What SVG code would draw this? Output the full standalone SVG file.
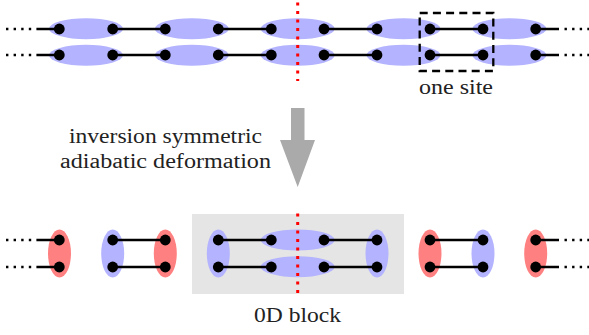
<svg xmlns="http://www.w3.org/2000/svg" width="589" height="335" viewBox="0 0 589 335">
<style>
.b{fill:#b3b3ff}.r{fill:#ff8080}
.w{stroke:#000;stroke-width:2.3;fill:none}
.d{stroke:#000;stroke-width:2.4;stroke-dasharray:2.4 5.2;fill:none}
.rd{stroke:#f00;stroke-width:3;stroke-dasharray:3 5.5;fill:none}
.t{font-family:"Liberation Serif",serif;font-size:20px;fill:#222}
circle{fill:#000}
</style>
<rect id="block" x="192" y="214" width="212" height="80" fill="#e5e5e5"/>
<g id="top-ellipses" class="b">
<ellipse cx="86" cy="28.7" rx="37" ry="10.5"/><ellipse cx="86" cy="55.3" rx="37" ry="10.5"/>
<ellipse cx="191.8" cy="28.7" rx="37" ry="10.5"/><ellipse cx="191.8" cy="55.3" rx="37" ry="10.5"/>
<ellipse cx="297.7" cy="28.7" rx="37" ry="10.5"/><ellipse cx="297.7" cy="55.3" rx="37" ry="10.5"/>
<ellipse cx="403.5" cy="28.7" rx="37" ry="10.5"/><ellipse cx="403.5" cy="55.3" rx="37" ry="10.5"/>
<ellipse cx="509.4" cy="28.7" rx="37" ry="10.5"/><ellipse cx="509.4" cy="55.3" rx="37" ry="10.5"/>
</g>
<g id="bottom-ellipses">
<ellipse class="r" cx="59.5" cy="253.5" rx="11.5" ry="24"/>
<ellipse class="b" cx="112.7" cy="253.5" rx="11.5" ry="24"/>
<ellipse class="r" cx="165.3" cy="253.5" rx="11.5" ry="24"/>
<ellipse class="b" cx="218.3" cy="253.5" rx="11.5" ry="24"/>
<ellipse class="b" cx="297.7" cy="240" rx="37" ry="10.5"/>
<ellipse class="b" cx="297.7" cy="266.7" rx="37" ry="10.5"/>
<ellipse class="b" cx="377" cy="253.5" rx="11.5" ry="24"/>
<ellipse class="r" cx="430" cy="253.5" rx="11.5" ry="24"/>
<ellipse class="b" cx="483" cy="253.5" rx="11.5" ry="24"/>
<ellipse class="r" cx="535.7" cy="253.5" rx="11.5" ry="24"/>
</g>
<g id="connectors">
<path class="w" d="M37 29H59M112.7 29H165.3M218.3 29H271.3M324 29H377M430 29H483M535.7 29H559M37 55H59M112.7 55H165.3M218.3 55H271.3M324 55H377M430 55H483M535.7 55H559"/>
<path class="w" d="M37 240H59.5M37 267H59.5M112.7 240H165.3M112.7 267H165.3M218.3 240H271.3M218.3 267H271.3M324 240H377M324 267H377M430 240H483M430 267H483M535.7 240H559M535.7 267H559"/>
<path class="d" d="M6 29H37M6 55H37M564.5 29H589M564.5 55H589M6 240H37M6 267H37M564.5 240H589M564.5 267H589"/>
<path class="rd" d="M297.7 2.5V81"/>
<path class="rd" d="M297.7 213.5V293"/>
</g>
<g id="top-sites">
<circle cx="59.3" cy="29" r="5.4"/><circle cx="112.7" cy="29" r="5.4"/><circle cx="165.3" cy="29" r="5.4"/><circle cx="218.3" cy="29" r="5.4"/><circle cx="271.3" cy="29" r="5.4"/><circle cx="324" cy="29" r="5.4"/><circle cx="377" cy="29" r="5.4"/><circle cx="430" cy="29" r="5.4"/><circle cx="483" cy="29" r="5.4"/><circle cx="535.7" cy="29" r="5.4"/>
<circle cx="59.3" cy="55" r="5.4"/><circle cx="112.7" cy="55" r="5.4"/><circle cx="165.3" cy="55" r="5.4"/><circle cx="218.3" cy="55" r="5.4"/><circle cx="271.3" cy="55" r="5.4"/><circle cx="324" cy="55" r="5.4"/><circle cx="377" cy="55" r="5.4"/><circle cx="430" cy="55" r="5.4"/><circle cx="483" cy="55" r="5.4"/><circle cx="535.7" cy="55" r="5.4"/>
</g>
<g id="bottom-sites">
<circle cx="59.3" cy="240" r="5.4"/><circle cx="112.7" cy="240" r="5.4"/><circle cx="165.3" cy="240" r="5.4"/><circle cx="218.3" cy="240" r="5.4"/><circle cx="271.3" cy="240" r="5.4"/><circle cx="324" cy="240" r="5.4"/><circle cx="377" cy="240" r="5.4"/><circle cx="430" cy="240" r="5.4"/><circle cx="483" cy="240" r="5.4"/><circle cx="535.7" cy="240" r="5.4"/>
<circle cx="59.3" cy="267" r="5.4"/><circle cx="112.7" cy="267" r="5.4"/><circle cx="165.3" cy="267" r="5.4"/><circle cx="218.3" cy="267" r="5.4"/><circle cx="271.3" cy="267" r="5.4"/><circle cx="324" cy="267" r="5.4"/><circle cx="377" cy="267" r="5.4"/><circle cx="430" cy="267" r="5.4"/><circle cx="483" cy="267" r="5.4"/><circle cx="535.7" cy="267" r="5.4"/>
</g>
<g id="one-site">
<rect x="419.7" y="13" width="73.6" height="58" fill="none" stroke="#000" stroke-width="2.3" stroke-dasharray="8 5.2"/>
<text class="t" x="419" y="94" textLength="74" lengthAdjust="spacingAndGlyphs">one site</text>
</g>
<g id="arrow">
<path d="M291 108H304.5V140H315L297.7 187L280 140H291Z" fill="#aaa"/>
<text class="t" x="69" y="143" textLength="193" lengthAdjust="spacingAndGlyphs">inversion symmetric</text>
<text class="t" x="60" y="168" textLength="211" lengthAdjust="spacingAndGlyphs">adiabatic deformation</text>
</g>
<text id="block-label" class="t" x="254" y="322" textLength="87" lengthAdjust="spacingAndGlyphs">0D block</text>
</svg>
